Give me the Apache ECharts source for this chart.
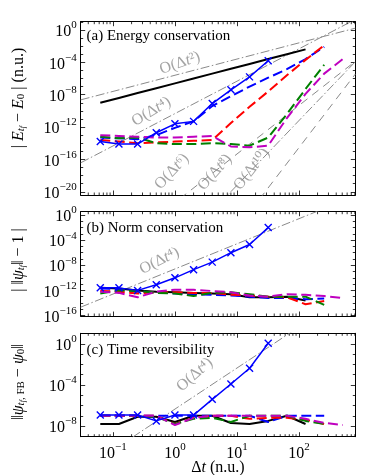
<!DOCTYPE html>
<html>
<head>
<meta charset="utf-8">
<script src="https://cdn.jsdelivr.net/npm/echarts@6/dist/echarts.min.js"></script>
<style>
  html, body { margin: 0; padding: 0; background: #fff; }
  #chart { width: 374px; height: 475px; }
</style>
</head>
<body>
<div id="chart"></div>
<script>
// time steps (n.u.)
const dt = [0.0625, 0.125, 0.25, 0.5, 1, 2, 4, 8, 16, 32, 64, 128, 256, 512];

// all values are log10 of the plotted quantity
// (a) energy conservation
const eBlack = [-9.0, -8.4, -7.8, -7.2, -6.6, -6.0, -5.4, -4.8, -4.2, -3.6, -3.0, -2.4];
const eBlueX = [-13.8, -14.1, -14.1, -12.7, -11.6, -11.3, -9.1, -7.4, -5.8, -3.8];
const eBlue = [-13.3, -13.4, -13.5, -13.0, -12.1, -11.3, -9.4, -8.2, -7.0, -5.9, -4.85, -3.6, -2.1];
const eRed = [-13.6, -13.8, -14.0, -13.9, -13.8, -13.7, -13.6, -11.5, -9.5, -7.6, -5.6, -3.7, -1.9];
const eGreen = [-13.2, -13.4, -13.3, -14.0, -14.1, -14.1, -14.0, -14.1, -14.3, -13.3, -10.4, -7.3, -4.3];
const eMagenta = [-13.0, -13.1, -13.2, -13.3, -13.3, -13.2, -13.1, -14.4, -14.5, -14.3, -10.9, -7.9, -5.4, -3.6];

// (b) norm conservation
const nBlack = [-11.6, -11.7, -12.0, -12.2, -12.3, -12.4, -12.5, -12.6, -13.1, -13.1, -13.0, -13.6];
const nBlueX = [-11.6, -11.6, -12.0, -11.1, -10.0, -8.7, -7.5, -6.0, -4.7, -2.0];
const nBlue = [-11.7, -11.8, -12.2, -12.3, -12.5, -12.6, -12.7, -12.8, -13.0, -13.2, -13.2, -13.4, -13.3];
const nRed = [-12.1, -12.2, -12.5, -12.3, -12.3, -12.4, -12.4, -12.7, -12.8, -13.0, -13.1, -14.2, -13.7];
const nGreen = [-12.5, -12.0, -12.1, -12.4, -12.5, -12.9, -12.4, -12.3, -12.6, -13.0, -13.0, -13.0, -14.3];
const nMagenta = [-12.2, -12.4, -13.1, -12.2, -11.9, -11.9, -12.1, -12.3, -12.8, -13.0, -12.6, -12.7, -12.9, -13.2];

// (c) time reversibility
const rBlack = [-7.8, -7.8, -7.1, -7.1, -7.6, -7.0, -7.0, -7.7, -7.8, -7.5, -7.0, -7.8];
const rBlueX = [-6.93, -6.93, -6.93, -7.5, -6.93, -6.93, -5.4, -3.9, -2.37, 0.07];
const rBlue = [-7.0, -7.0, -7.0, -7.0, -7.0, -7.0, -7.0, -7.0, -7.0, -7.6, -7.0, -7.0, -7.0];
const rRed = [-7.0, -7.0, -7.0, -7.0, -7.8, -7.2, -7.0, -7.0, -7.3, -7.2, -7.2, -7.4, -7.8];
const rGreen = [-7.0, -7.0, -7.0, -7.1, -7.8, -7.3, -7.2, -7.6, -7.0, -7.0, -7.0, -7.5, -7.8];
const rMagenta = [-7.0, -7.0, -7.0, -7.0, -7.9, -7.2, -7.0, -7.0, -7.0, -7.0, -7.0, -7.3, -7.7, -7.9];

// guide lines O(dt^p): [order, [log dt, log y] start, end]
const guidesA = [
  [2, [-1.52, -8.64], [2.91, 0.22]],
  [4, [-1.52, -16.42], [2.91, 1.30]],
  [6, [-1.52, -30.46], [2.91, -3.88]],
  [8, [-1.52, -39.37], [2.91, -3.93]],
  [10, [-1.52, -49.76], [2.91, -5.46]]
];
const guidesB = [[4, [-1.52, -14.67], [2.91, 3.05]]];
const guidesC = [[4, [-1.52, -12.43], [2.91, 5.29]]];

// guide labels: [order, log dt, log y, rotation]
const guideLabelsA = [[2, 0.08, -4.1, 19], [4, -0.38, -10.1, 31], [6, -0.05, -17.5, 47], [8, 0.645, -17.6, 48], [10, 1.24, -17.2, 52]];
const guideLabelsB = [[4, -0.25, -7.3, 27]];
const guideLabelsC = [[4, 0.32, -3.0, 42]];

const xMin = -1.52, xMax = 2.91;
const yRanges = [[-20.4, 1.02], [-16.08, 0.53], [-9.04, 1.04]];
const serif = '"Liberation Serif", "DejaVu Serif", serif';

const supMap = { '-': '⁻', '0': '⁰', '1': '¹', '2': '²', '3': '³', '4': '⁴', '5': '⁵', '6': '⁶', '7': '⁷', '8': '⁸', '9': '⁹' };
function powLabel(v) {
  if (Math.abs(v - Math.round(v)) > 1e-6) return '';
  const e = String(Math.round(v)).replace('-', '−');
  return '{b|10}{p|' + e + '}';
}
const powRich = {
  b: { fontSize: 16, fontFamily: serif, color: '#000', lineHeight: 20, verticalAlign: 'bottom' },
  p: { fontSize: 11, fontFamily: serif, color: '#000', verticalAlign: 'top' }
};

const chart = echarts.init(document.getElementById('chart'));

const grids = [
  { left: 80.7, top: 21.7, width: 274.6, height: 173.3 },
  { left: 80.7, top: 211.7, width: 274.6, height: 104.3 },
  { left: 80.7, top: 333.3, width: 274.6, height: 103.4 }
];

const xAxes = [], yAxes = [];
for (let i = 0; i < 3; i++) {
  ['bottom', 'top'].forEach(function (pos) {
    xAxes.push({
      type: 'value', gridIndex: i, position: pos, min: xMin, max: xMax,
      minInterval: 1, maxInterval: 1,
      axisLine: { show: true, onZero: false, lineStyle: { color: '#000', width: 1 } },
      axisTick: { show: true, inside: true, length: 4.5, lineStyle: { color: '#000', width: 0.8 } },
      axisLabel: { show: pos === 'bottom' && i === 2, formatter: powLabel, rich: powRich, margin: 5 },
      splitLine: { show: false }
    });
  });
  ['left', 'right'].forEach(function (pos) {
    yAxes.push({
      type: 'value', gridIndex: i, position: pos, min: yRanges[i][0], max: yRanges[i][1],
      minInterval: 4, maxInterval: 4,
      axisLine: { show: true, onZero: false, lineStyle: { color: '#000', width: 1 } },
      axisTick: { show: true, inside: true, length: 4.5, lineStyle: { color: '#000', width: 0.8 } },
      minorTick: { show: true, splitNumber: 4, length: 2.5, lineStyle: { color: '#000', width: 0.8 } },
      axisLabel: { show: pos === 'left', formatter: powLabel, rich: powRich, margin: 4 },
      splitLine: { show: false }
    });
  });
}

// log-spaced minor ticks on the x axes (2..9 per decade)
const xMinor = [];
for (let n = -2; n <= 2; n++) {
  for (let k = 2; k <= 9; k++) {
    const v = n + Math.log10(k);
    if (v > xMin && v < xMax) xMinor.push([v, 0]);
  }
}
function minorTicks(params, api) {
  const cs = params.coordSys;
  const x = api.coord([api.value(0), api.value(1)])[0];
  const st = { stroke: '#000', lineWidth: 0.8 };
  return {
    type: 'group', children: [
      { type: 'line', shape: { x1: x, y1: cs.y + cs.height, x2: x, y2: cs.y + cs.height - 2.5 }, style: st },
      { type: 'line', shape: { x1: x, y1: cs.y, x2: x, y2: cs.y + 2.5 }, style: st }
    ]
  };
}

const series = [];
for (let i = 0; i < 3; i++) {
  series.push({
    type: 'custom', xAxisIndex: 2 * i, yAxisIndex: 2 * i, silent: true,
    renderItem: minorTicks,
    data: xMinor.map(function (d) { return [d[0], (yRanges[i][0] + yRanges[i][1]) / 2]; })
  });
}

const dashDot = [9, 2.5, 1.5, 2.5];
const longDash = [8, 6];
function addGuides(i, guides) {
  guides.forEach(function (g) {
    series.push({
      type: 'line', xAxisIndex: 2 * i, yAxisIndex: 2 * i, silent: true, symbol: 'none',
      data: [g[1], g[2]],
      lineStyle: { color: '#8a8a8a', width: 1, type: (g[0] === 6 || g[0] === 10) ? longDash : dashDot },
      clip: true, z: 1
    });
  });
}
function addGuideLabels(i, labels) {
  labels.forEach(function (l) {
    const pw = String(l[0]).split('').map(function (c) { return supMap[c]; }).join('');
    series.push({
      type: 'scatter', xAxisIndex: 2 * i, yAxisIndex: 2 * i, silent: true, symbolSize: 0,
      data: [[l[1], l[2]]], z: 2,
      label: {
        show: true, position: 'inside', rotate: l[3],
        formatter: '{n|O(Δ}{i|t}{p|' + pw + '}{n|)}',
        rich: {
          n: { fontSize: 16, fontFamily: serif, color: '#8c8c8c' },
          i: { fontSize: 16, fontFamily: serif, fontStyle: 'italic', color: '#8c8c8c' },
          p: { fontSize: 16, fontFamily: serif, color: '#8c8c8c' }
        }
      }
    });
  });
}
addGuides(0, guidesA); addGuides(1, guidesB); addGuides(2, guidesC);
addGuideLabels(0, guideLabelsA); addGuideLabels(1, guideLabelsB); addGuideLabels(2, guideLabelsC);

function pts(ys) {
  return ys.map(function (v, j) { return [Math.log10(dt[j]), v]; });
}
function addData(i, ys, color, kind) {
  const s = {
    type: 'line', xAxisIndex: 2 * i, yAxisIndex: 2 * i, silent: true, data: pts(ys), z: 3,
    symbol: 'none', clip: true,
    lineStyle: { color: color, width: 2, type: 'solid' }
  };
  if (kind === 'dash') {
    s.lineStyle.type = [10, 4.5];
  } else if (kind === 'cross') {
    s.lineStyle.width = 1.5;
    s.symbol = 'path://M0,0L10,10M10,0L0,10';
    s.symbolSize = 7;
    s.itemStyle = { color: color, borderColor: color, borderWidth: 1.4 };
    s.z = 5;
  }
  series.push(s);
}
[
  [eBlack, eBlue, eRed, eGreen, eMagenta, eBlueX],
  [nBlack, nBlue, nRed, nGreen, nMagenta, nBlueX],
  [rBlack, rBlue, rRed, rGreen, rMagenta, rBlueX]
].forEach(function (set, i) {
  addData(i, set[0], '#000000', 'solid');
  addData(i, set[1], '#0000ff', 'dash');
  addData(i, set[2], '#ff0000', 'dash');
  addData(i, set[3], '#008000', 'dash');
  addData(i, set[4], '#bf00bf', 'dash');
  addData(i, set[5], '#0000ff', 'cross');
});

const titleRich = {
  n: { fontSize: 16, fontFamily: serif, color: '#000', lineHeight: 20, verticalAlign: 'bottom' },
  i: { fontSize: 16, fontFamily: serif, fontStyle: 'italic', color: '#000', lineHeight: 20, verticalAlign: 'bottom' },
  s: { fontSize: 11, fontFamily: serif, fontStyle: 'italic', color: '#000', verticalAlign: 'bottom' },
  ss: { fontSize: 8, fontFamily: serif, fontStyle: 'italic', color: '#000', verticalAlign: 'bottom' },
  u: { fontSize: 11, fontFamily: serif, color: '#000', verticalAlign: 'bottom' }
};
function grayRich() {
  const r = JSON.parse(JSON.stringify(titleRich));
  Object.keys(r).forEach(function (k) { r[k].color = '#6e6e6e'; });
  return r;
}
function vText(x, y, text, rich) {
  return {
    type: 'text', x: x, y: y, rotation: Math.PI / 2, silent: true,
    style: { text: text, rich: rich, align: 'center', verticalAlign: 'middle', textAlign: 'center', textVerticalAlign: 'middle' }
  };
}
function panelTitle(x, y, text) {
  return {
    type: 'text', x: x, y: y, silent: true,
    style: { text: text, font: '15px ' + serif, fill: '#000', verticalAlign: 'middle', textVerticalAlign: 'middle' }
  };
}

chart.setOption({
  animation: false,
  backgroundColor: '#fff',
  grid: grids,
  xAxis: xAxes,
  yAxis: yAxes,
  series: series,
  graphic: [
    panelTitle(86.5, 36, '(a) Energy conservation'),
    panelTitle(86.5, 228.5, '(b) Norm conservation'),
    panelTitle(86.5, 350.5, '(c) Time reversibility'),
    vText(17, 98, '{n|| }{i|E}{s|t}{ss|f}{n| − }{i|E}{u|0}{n| | (n.u.)}', titleRich),
    vText(17, 260, '{n|| ‖}{i|ψ}{s|t}{ss|f}{n|‖ − 1 |}', grayRich()),
    vText(17, 382, '{n|‖}{i|ψ}{s|t}{ss|f}{u|, FB}{n| − }{i|ψ}{u|0}{n|‖}', grayRich()),
    {
      type: 'text', x: 218, y: 466, silent: true,
      style: { text: '{n|Δ}{i|t}{n| (n.u.)}', rich: titleRich, align: 'center', verticalAlign: 'middle', textAlign: 'center', textVerticalAlign: 'middle' }
    }
  ]
});
</script>
</body>
</html>
